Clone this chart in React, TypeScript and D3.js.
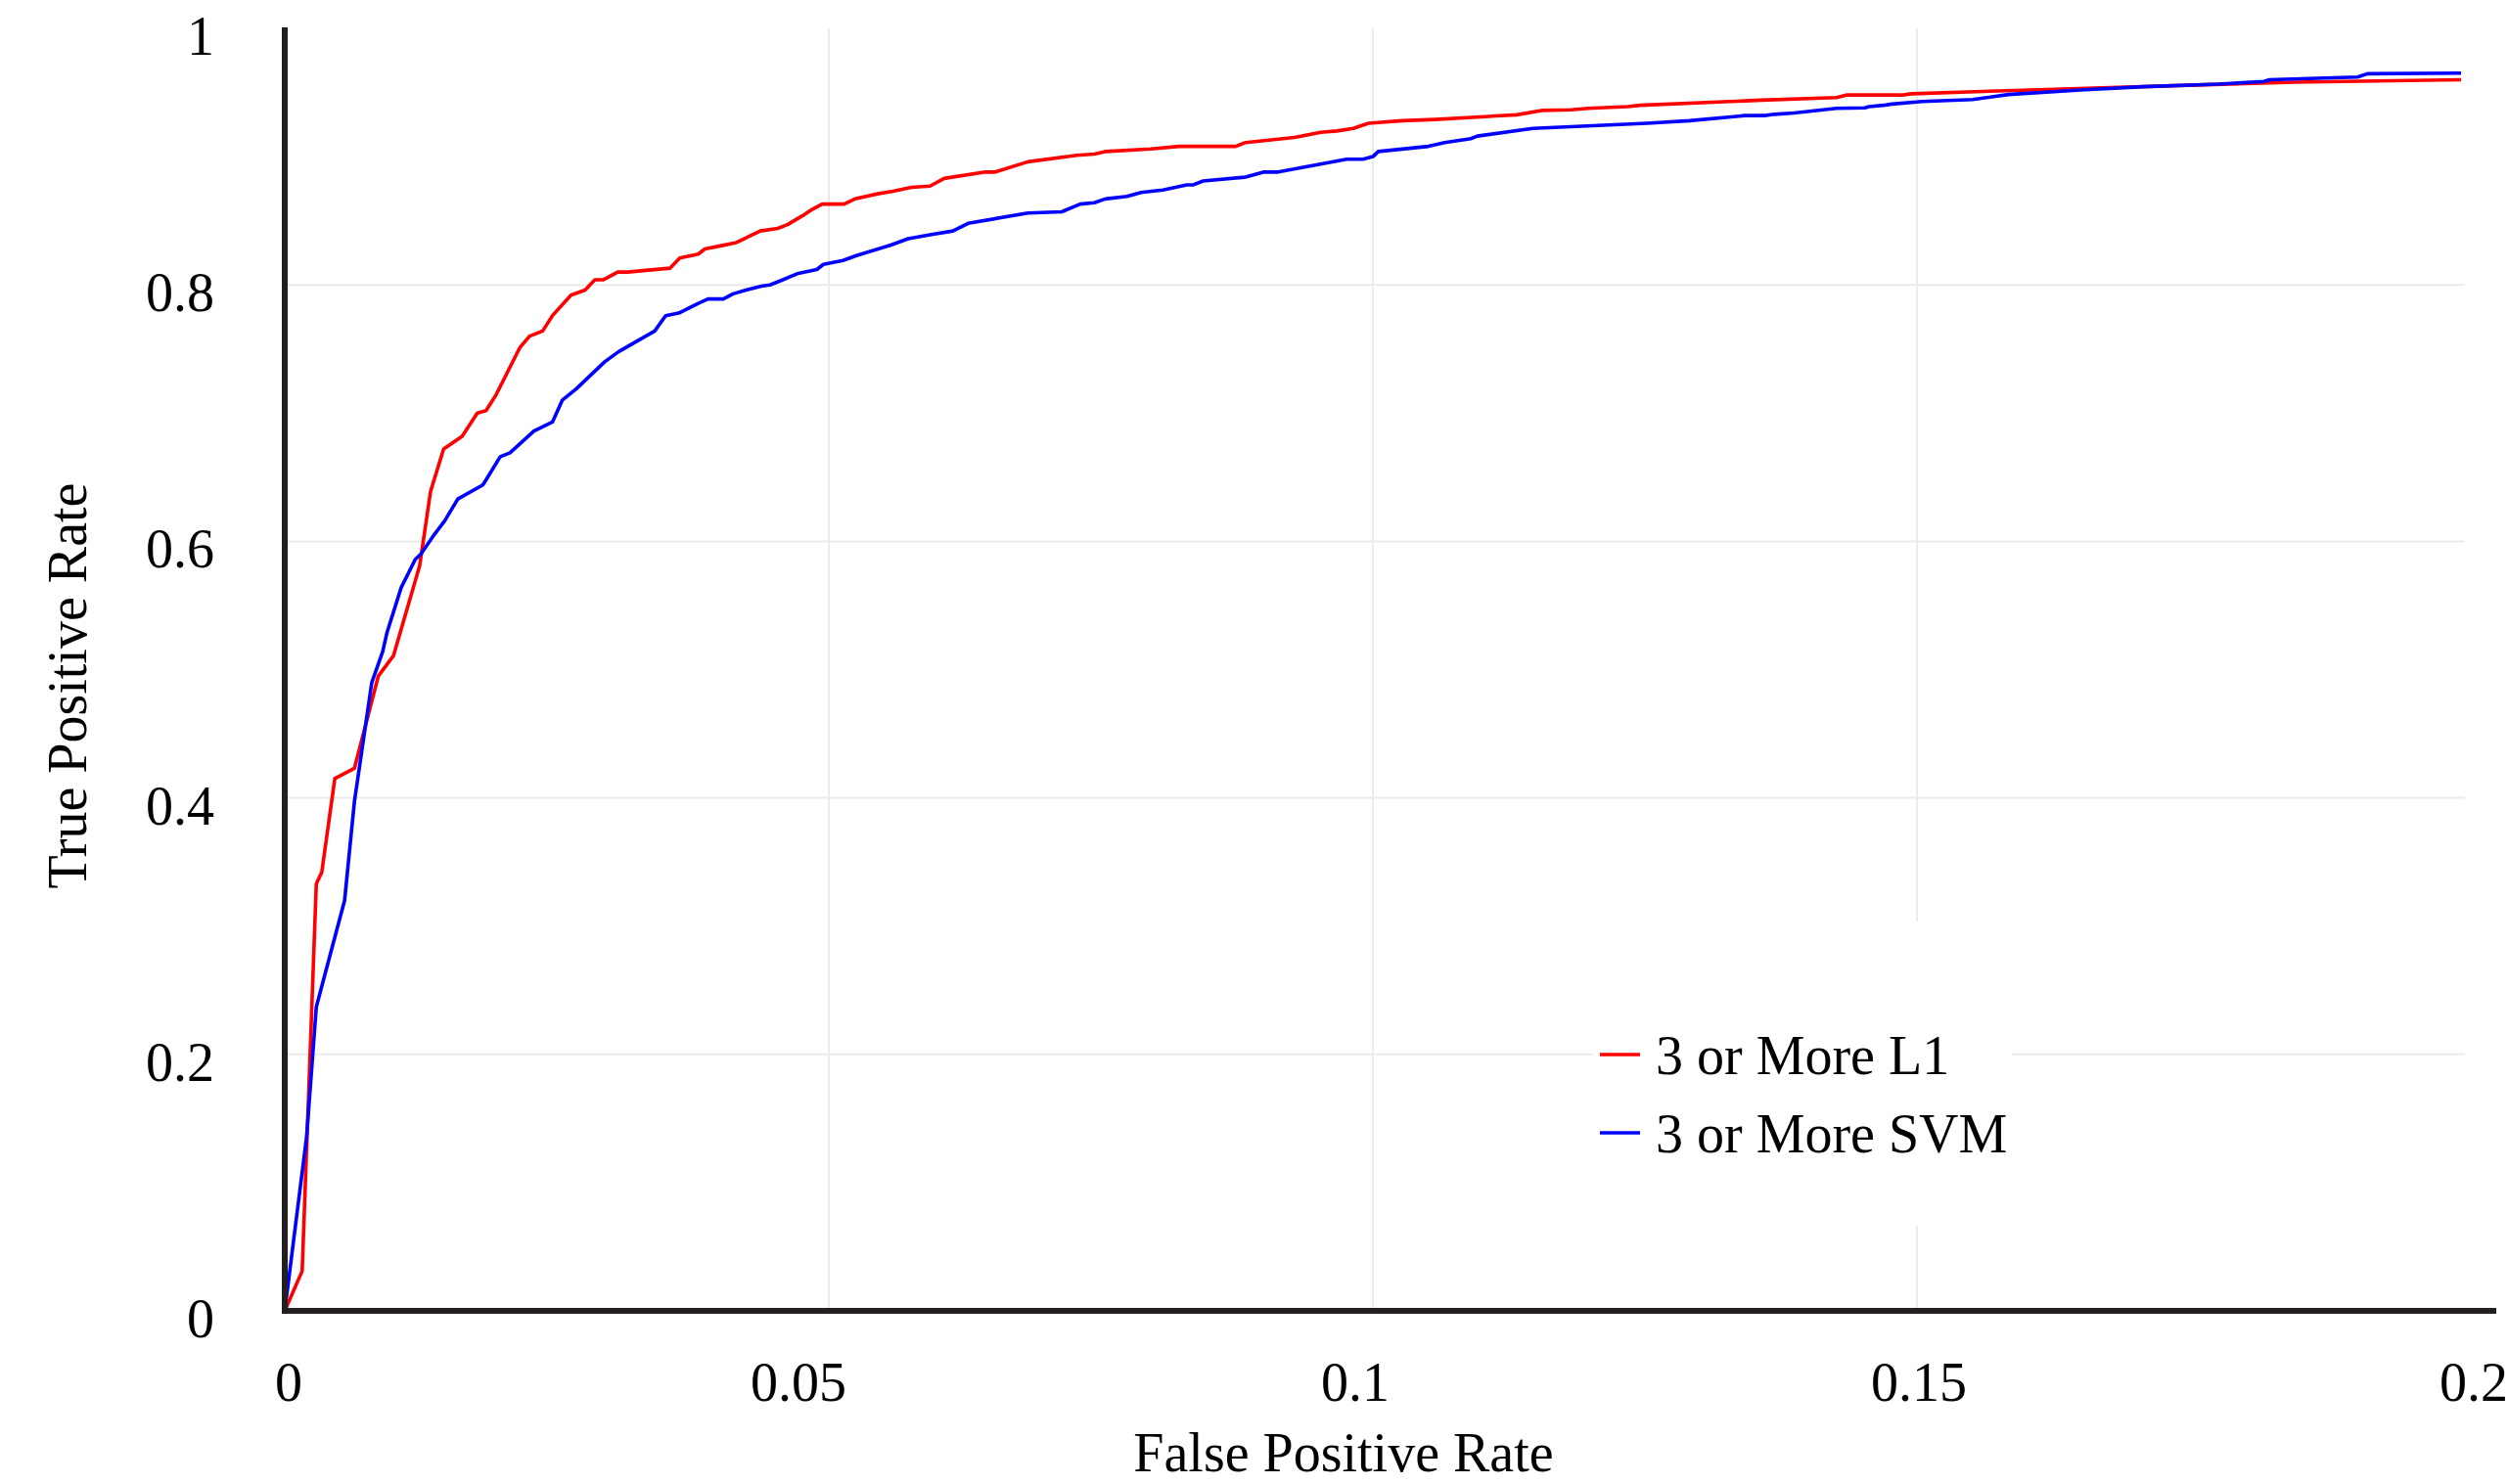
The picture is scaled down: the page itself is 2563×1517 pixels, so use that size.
import React from 'react';
import * as d3 from 'd3';

// ROC curves, false positive rate 0 .. 0.2
const l1Fpr = [0, 0.0016, 0.0029, 0.0034, 0.0046, 0.0064, 0.0086, 0.0100, 0.0124, 0.0134, 0.0146, 0.0163, 0.0177, 0.0185, 0.0194, 0.0216, 0.0225, 0.0237, 0.0246, 0.0263, 0.0276, 0.0285, 0.0293, 0.0306, 0.0315, 0.0354, 0.0363, 0.0380, 0.0386, 0.0398, 0.0415, 0.0437, 0.0453, 0.0462, 0.0476, 0.0485, 0.0494, 0.0514, 0.0524, 0.0545, 0.0559, 0.0576, 0.0593, 0.0606, 0.0644, 0.0653, 0.0683, 0.0728, 0.0744, 0.0755, 0.0796, 0.0822, 0.0874, 0.0883, 0.0928, 0.0952, 0.0967, 0.0982, 0.0996, 0.1027, 0.1057, 0.1132, 0.1155, 0.1182, 0.1198, 0.1234, 0.1246, 0.1357, 0.1426, 0.1435, 0.1486, 0.1495, 0.1604, 0.1743, 0.1847, 0.2];
const l1Tpr = [0, 0.031, 0.333, 0.342, 0.415, 0.423, 0.495, 0.511, 0.581, 0.639, 0.672, 0.682, 0.700, 0.702, 0.714, 0.751, 0.760, 0.764, 0.776, 0.792, 0.796, 0.804, 0.804, 0.810, 0.810, 0.813, 0.821, 0.824, 0.828, 0.830, 0.833, 0.842, 0.844, 0.847, 0.854, 0.859, 0.863, 0.863, 0.867, 0.871, 0.873, 0.876, 0.877, 0.883, 0.888, 0.888, 0.896, 0.901, 0.902, 0.904, 0.906, 0.908, 0.908, 0.911, 0.915, 0.919, 0.920, 0.922, 0.926, 0.928, 0.929, 0.9326, 0.936, 0.9365, 0.9377, 0.939, 0.940, 0.944, 0.946, 0.948, 0.948, 0.949, 0.952, 0.9555, 0.958, 0.960];

const svmFpr = [0, 0.0020, 0.0029, 0.0055, 0.0064, 0.0080, 0.0090, 0.0094, 0.0107, 0.0120, 0.0125, 0.0138, 0.0147, 0.0159, 0.0182, 0.0185, 0.0198, 0.0207, 0.0229, 0.0246, 0.0255, 0.0268, 0.0294, 0.0307, 0.0340, 0.0350, 0.0362, 0.0381, 0.0389, 0.0403, 0.0412, 0.0424, 0.0438, 0.0446, 0.0455, 0.0472, 0.0489, 0.0495, 0.0513, 0.0526, 0.0557, 0.0573, 0.0593, 0.0614, 0.0628, 0.0683, 0.0714, 0.0731, 0.0744, 0.0754, 0.0774, 0.0787, 0.0807, 0.0829, 0.0835, 0.0844, 0.0883, 0.0900, 0.0913, 0.0976, 0.0991, 0.1000, 0.1005, 0.1051, 0.1066, 0.1090, 0.1096, 0.1147, 0.1252, 0.1291, 0.1342, 0.1360, 0.1369, 0.1387, 0.1426, 0.1452, 0.1456, 0.1469, 0.1477, 0.1505, 0.1551, 0.1584, 0.1650, 0.1708, 0.1777, 0.1819, 0.1824, 0.1905, 0.1914, 0.2];
const svmTpr = [0, 0.135, 0.237, 0.320, 0.397, 0.490, 0.514, 0.529, 0.564, 0.586, 0.590, 0.606, 0.616, 0.633, 0.644, 0.648, 0.666, 0.669, 0.686, 0.693, 0.710, 0.719, 0.740, 0.748, 0.764, 0.776, 0.778, 0.786, 0.789, 0.789, 0.793, 0.796, 0.799, 0.800, 0.803, 0.809, 0.812, 0.816, 0.819, 0.823, 0.831, 0.836, 0.839, 0.842, 0.848, 0.856, 0.857, 0.863, 0.864, 0.867, 0.869, 0.872, 0.874, 0.878, 0.878, 0.881, 0.884, 0.888, 0.888, 0.898, 0.898, 0.900, 0.904, 0.908, 0.911, 0.914, 0.916, 0.922, 0.926, 0.928, 0.932, 0.932, 0.933, 0.934, 0.9377, 0.938, 0.939, 0.940, 0.941, 0.943, 0.9445, 0.9484, 0.952, 0.9545, 0.9565, 0.9586, 0.960, 0.962, 0.9646, 0.9651];

const seriesNames = ['3 or More L1', '3 or More SVM'];
const seriesColors = ['#ff0000', '#0000ff'];

const xTicks = [0, 0.05, 0.1, 0.15, 0.2];
const yTicks = [0, 0.2, 0.4, 0.6, 0.8, 1];
const xTickLabels = ['0', '0.05', '0.1', '0.15', '0.2'];
const yTickLabels = ['0', '0.2', '0.4', '0.6', '0.8', '1'];

const W = 2563, H = 1517;
const FONT = '"Liberation Serif", "Times New Roman", serif';

// the original tool did not centre its x labels exactly on the ticks
const xLabelNudge = [4, -31, -18, 2, 13];

export default function App() {
  const x = d3.scaleLinear().domain([0, 0.2]).range([291, 2515]);
  const y = d3.scaleLinear().domain([0, 1]).range([1340, 29]);

  const line = d3.line<[number, number]>()
    .x(d => x(d[0]))
    .y(d => y(d[1]));

  const series = [
    l1Fpr.map((f, i) => [f, l1Tpr[i]] as [number, number]),
    svmFpr.map((f, i) => [f, svmTpr[i]] as [number, number]),
  ];

  const axisColor = '#231f20';
  const gridColor = '#ebebeb';

  return (
    <div style={{ position: 'absolute', left: 0, top: 0 }}>
      <svg width={W} height={H} style={{ display: 'block', background: '#fff' }}>
        {/* grid */}
        {yTicks.filter(t => t > 0 && t < 1).map(t => (
          <line key={'gy' + t} x1={x(0)} x2={x(0.2) + 4} y1={y(t)} y2={y(t)} stroke={gridColor} strokeWidth={2} />
        ))}
        {xTicks.filter(t => t > 0 && t < 0.2).map(t => (
          <line key={'gx' + t} x1={x(t)} x2={x(t)} y1={y(1)} y2={y(0)} stroke={gridColor} strokeWidth={2} />
        ))}

        {/* legend background */}
        <rect x={1628} y={942} width={428} height={311} fill="#fff" />

        {/* curves */}
        {series.map((s, i) => (
          <path key={'s' + i} d={line(s) || ''} fill="none" stroke={seriesColors[i]} strokeWidth={3.6} strokeLinejoin="round" />
        ))}

        {/* axes */}
        <line x1={x(0)} x2={x(0)} y1={y(1) - 1} y2={y(0) + 3} stroke={axisColor} strokeWidth={6} />
        <line x1={x(0) - 3} x2={2551} y1={y(0)} y2={y(0)} stroke={axisColor} strokeWidth={6} />

        {/* tick labels */}
        {yTicks.map((t, i) => (
          <text key={'yl' + t} x={219} y={y(t) + 27} textAnchor="end" fontFamily={FONT} fontSize={56} fill="#000">
            {yTickLabels[i]}
          </text>
        ))}
        {xTicks.map((t, i) => (
          <text key={'xl' + t} x={x(t) + xLabelNudge[i]} y={1432} textAnchor="middle" fontFamily={FONT} fontSize={56} fill="#000">
            {xTickLabels[i]}
          </text>
        ))}

        {/* axis titles */}
        <text x={1373} y={1504} textAnchor="middle" fontFamily={FONT} fontSize={56} fill="#000">False Positive Rate</text>
        <text transform="translate(88,701) rotate(-90)" textAnchor="middle" fontFamily={FONT} fontSize={56} fill="#000">True Positive Rate</text>

        {/* legend */}
        {seriesNames.map((name, i) => (
          <g key={'lg' + i} transform={`translate(1635,${1078 + i * 80})`}>
            <line x1={0} x2={41} y1={0} y2={0} stroke={seriesColors[i]} strokeWidth={3.6} />
            <text x={57} y={20} fontFamily={FONT} fontSize={56} fill="#000">{name}</text>
          </g>
        ))}
      </svg>
    </div>
  );
}
